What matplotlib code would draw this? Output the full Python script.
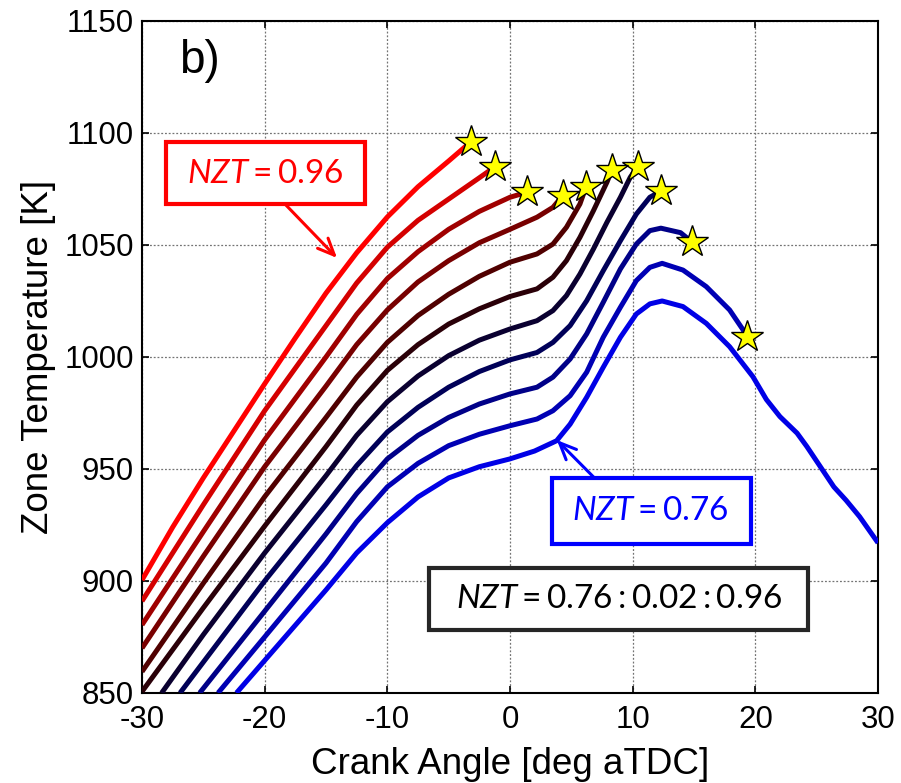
import matplotlib.pyplot as plt
from matplotlib.patches import Rectangle

plt.rcParams['font.family'] = ['Liberation Sans', 'DejaVu Sans']
plt.rcParams['axes.unicode_minus'] = False
plt.rcParams['mathtext.fontset'] = 'custom'
plt.rcParams['mathtext.rm'] = 'Lato'
plt.rcParams['mathtext.it'] = 'Lato:italic'

# NZT value of each curve and its line colour (blue -> black -> red)
nzt = [0.76, 0.78, 0.80, 0.82, 0.84, 0.86, 0.88, 0.90, 0.92, 0.94, 0.96]
colors = ['#0000E6', '#0000B4', '#000088', '#000058', '#0A0030', '#2A0008',
          '#500000', '#780000', '#A00000', '#D40000', '#FF0000']

# crank angle [deg aTDC] / zone temperature [K]
ca_076 = [-22.3, -20, -15, -12.5, -10, -7.5, -5, -2.5, 0, 2, 3.8, 4.9, 6.25, 7.6, 9.0,
          10.3, 11.4, 12.4, 14.1, 16.0, 17.9, 19.8, 20.9, 22.0, 23.4, 24.2, 25.3, 26.4,
          27.4, 28.5, 30]
t_076 = [850, 864.5, 896, 912.5, 926, 937.5, 946, 951, 954.5, 958, 962.6, 970, 982, 995.4,
         1008.8, 1019.2, 1023.7, 1025, 1022.5, 1015, 1004.6, 991.2, 981, 973.4, 966, 960,
         951, 942, 936, 928.7, 917]

ca_078 = [-23.8, -20, -15, -12.5, -10, -7.5, -5, -2.5, 0, 2.2, 3.5, 4.9, 6.25, 7.6, 9.0,
          10.3, 11.4, 12.4, 14.1, 16.0, 17.9, 19.0, 19.3]
t_078 = [850, 875, 908, 926.5, 942, 952.5, 960.4, 965.5, 969.3, 972.3, 976, 982.7, 993.2,
         1008.8, 1022.2, 1034.1, 1040, 1041.8, 1038.8, 1031.4, 1021, 1012.1, 1009]

ca_080 = [-25.3, -20, -15, -12.5, -10, -7.5, -5, -2.5, 0, 2.2, 3.5, 4.9, 6.25, 7.6, 9.0,
          10.3, 11.4, 12.3, 13.9, 14.8]
t_080 = [850, 886.5, 921, 939, 954.5, 965, 973, 979, 983.5, 986.5, 991, 999.1, 1010.3,
         1024.4, 1039.3, 1050.4, 1056.4, 1057.5, 1055.5, 1051.5]

ca_082 = [-26.9, -20, -15, -12.5, -10, -7.5, -5, -2.5, 0, 2.2, 3.5, 4.9, 6.25, 7.6, 9.0,
          10.3, 11.4, 12.3]
t_082 = [850, 900, 934, 951.5, 966.5, 977.5, 986.5, 993.5, 998.7, 1002, 1006.5, 1014,
         1025.1, 1038.5, 1051.9, 1063.8, 1071.3, 1074]

ca_084 = [-28.4, -25, -20, -15, -12.5, -10, -7.5, -5, -2.5, 0, 2.2, 3.5, 4.6, 5.7, 6.8,
          7.9, 9.0, 9.8, 10.4]
t_084 = [850, 876, 912.5, 947, 965, 980, 991.5, 1000.6, 1007.5, 1012.5, 1016.2, 1020.7,
         1027.4, 1037, 1048.2, 1060.1, 1071.3, 1080.2, 1085]

ca_086 = [-30, -25, -20, -15, -12.5, -10, -7.5, -5, -2.5, 0, 2.2, 3.5, 4.6, 5.7, 6.8,
          7.9, 8.3]
t_086 = [850.6, 888, 924.5, 960, 978.5, 994, 1005.5, 1014.7, 1021.5, 1027, 1030.4, 1035.6,
         1043, 1053.4, 1065.3, 1078, 1083.5]

ca_088 = [-30, -25, -20, -15, -12.5, -10, -7.5, -5, -2.5, 0, 2.2, 3.5, 4.6, 5.7, 6.2]
t_088 = [859.5, 899, 937.6, 973, 991, 1006.5, 1018.5, 1028, 1036, 1042.3, 1046, 1050.4,
         1057.9, 1068.3, 1076]

ca_090 = [-30, -25, -20, -15, -12.5, -10, -7.5, -5, -2.5, 0, 2.2, 3.5, 4.3]
t_090 = [870, 911, 951, 987, 1005.5, 1021, 1033.5, 1043, 1051, 1057, 1062.4, 1066.8, 1072]

ca_092 = [-30, -25, -20, -15, -12.5, -10, -7.5, -5, -2.5, 0, 1.35]
t_092 = [880.4, 922, 963, 1000, 1019, 1035, 1047, 1057, 1065, 1071.3, 1073.5]

ca_094 = [-30, -25, -20, -15, -12.5, -10, -7.5, -5, -2.5, -1.2]
t_094 = [891, 934, 976, 1014, 1033, 1049, 1061, 1070.5, 1080, 1085]

ca_096 = [-30, -27.5, -25, -22.5, -20, -17.5, -15, -12.5, -10, -7.5, -5, -3.2]
t_096 = [900.4, 924, 946, 967, 988, 1008.5, 1028.5, 1046.5, 1062.5, 1076, 1087.5, 1096]

curves = [(ca_076, t_076), (ca_078, t_078), (ca_080, t_080), (ca_082, t_082),
          (ca_084, t_084), (ca_086, t_086), (ca_088, t_088), (ca_090, t_090),
          (ca_092, t_092), (ca_094, t_094), (ca_096, t_096)]

fig = plt.figure(figsize=(9.01, 7.83), dpi=100)
ax = fig.add_axes([0.1576, 0.115, 0.8169, 0.8582])

for (ca, t), c in zip(curves, colors):
    ax.plot(ca, t, color=c, lw=3.6, solid_capstyle='butt', solid_joinstyle='round', zorder=3)

# star at the end of every curve except the lowest NZT
for (ca, t) in curves[1:]:
    ax.plot(ca[-1], t[-1], marker='*', ms=24, mfc='yellow', mec='black', mew=1.0, zorder=5)

ax.set_xlim(-30, 30)
ax.set_ylim(850, 1150)
ax.set_xticks(range(-30, 31, 10))
ax.set_yticks(range(850, 1151, 50))
ax.tick_params(direction='in', top=True, right=True, length=5, width=1.2, labelsize=22.5)
ax.tick_params(axis='x', pad=9)
ax.tick_params(axis='y', pad=6)
ax.grid(True, ls=(0, (1.5, 1.5)), color='0.45', lw=0.9, zorder=0)
for s in ax.spines.values():
    s.set_linewidth(1.5)

ax.set_xlabel('Crank Angle [deg aTDC]', fontsize=26.5, labelpad=8)
ax.set_ylabel('Zone Temperature [K]', fontsize=26.5, labelpad=6)

ax.text(-25.3, 1132, 'b)', fontsize=33, ha='center', va='center')


def label_box(x0, x1, t0, t1, text, tx, ty, color, start=None, tip=None):
    ax.add_patch(Rectangle((x0, t0), x1 - x0, t1 - t0, fc='white', ec=color, lw=3, zorder=6))
    ax.text(tx, ty, text, fontsize=24, color=color if color != '#262626' else 'black',
            ha='center', va='center', zorder=7)
    if start is not None:
        ax.annotate('', xy=tip, xytext=start, zorder=6,
                    arrowprops=dict(arrowstyle='->,head_length=0.8,head_width=0.35',
                                    mutation_scale=15, color=color, lw=2.2,
                                    shrinkA=0, shrinkB=0))


label_box(-28.04, -11.83, 1068.3, 1096.0, r'$NZT = 0.96$', -19.93, 1081.6, 'red',
          start=(-18.35, 1068.3), tip=(-14.1, 1044.2))
label_box(3.39, 19.61, 916.5, 945.8, r'$NZT = 0.76$', 11.48, 930.8, '#0000FF',
          start=(6.92, 945.8), tip=(3.82, 962.9))
label_box(-6.58, 24.30, 878.1, 905.7, r'$NZT = 0.76 : 0.02 : 0.96$', 8.86, 891.5, '#262626')

fig.savefig('out.png', dpi=100)
